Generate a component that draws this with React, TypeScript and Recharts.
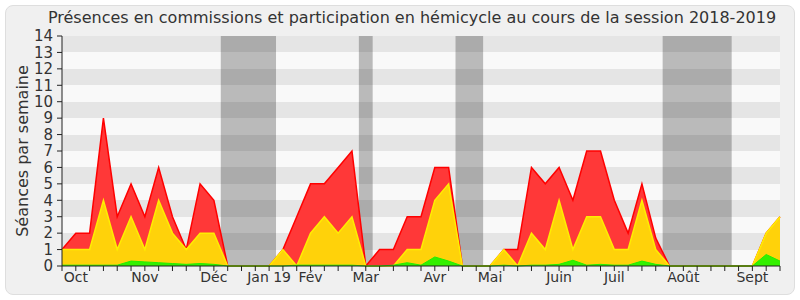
import * as React from 'react';
import { Area, AreaChart, CartesianGrid, Label, ReferenceArea, XAxis, YAxis } from 'recharts';

// weekly values, session 2018-2019 (index 0 = end of sept 2018)
const commissions = [1, 2, 2, 9, 3, 5, 3, 6, 3, 1, 5, 4, 0, 0, 0, 0, 1, 3, 5, 5, 6, 7, 0, 1, 1, 3, 3, 6, 6, 0, 0, 0, 1, 1, 6, 5, 6, 4, 7, 7, 4, 2, 5, 1.7, 0, 0, 0, 0, 0, 0, 0, 2, 3];
const hemicycle = [1, 1, 1, 4, 1, 3, 1, 4, 2, 1, 2, 2, 0, 0, 0, 0, 1, 0, 2, 3, 2, 3, 0, 0, 0, 1, 1, 4, 5, 0, 0, 0, 1, 0, 2, 1, 4, 1, 3, 3, 1, 1, 4, 1, 0, 0, 0, 0, 0, 0, 0, 2, 3];
const interventions = [0.05, 0.05, 0.05, 0.05, 0.05, 0.3, 0.25, 0.2, 0.15, 0.1, 0.15, 0.1, 0, 0, 0, 0, 0, 0.05, 0.05, 0.05, 0.05, 0.05, 0, 0, 0.05, 0.2, 0.05, 0.55, 0.3, 0, 0, 0, 0.05, 0, 0.05, 0.05, 0.1, 0.35, 0.05, 0.1, 0.05, 0.05, 0.3, 0.1, 0, 0, 0, 0, 0, 0, 0, 0.7, 0.3];

const monthWeeks = [1, 6, 11, 15, 18, 22, 27, 31, 36, 40, 45, 50];
const monthLabels = ['Oct', 'Nov', 'Déc', 'Jan 19', 'Fév', 'Mar', 'Avr', 'Mai', 'Juin', 'Juil', 'Août', 'Sept'];

const vacationStart = [11.5, 21.5, 28.5, 43.5];
const vacationEnd = [15.5, 22.5, 30.5, 48.5];

const yTicks = [0, 1, 2, 3, 4, 5, 6, 7, 8, 9, 10, 11, 12, 13, 14];

const data = commissions.map((c, i) => ({
    week: i,
    commissions: c,
    hemicycle: hemicycle[i],
    interventions: interventions[i],
}));
const weekTicks = data.map(d => d.week);

const font = 'DejaVu Sans, Verdana, sans-serif';

export default function App() {
    const monthOf = (w: number) => {
        const k = monthWeeks.indexOf(w);
        return k >= 0 ? monthLabels[k] : '';
    };

    return (
        <div style={{ position: 'absolute', left: 0, top: 0, width: 800, height: 300, background: '#fff', fontFamily: font }}>
            <div style={{ position: 'absolute', left: 5, top: 5, width: 788, height: 288, background: '#f0f0f0', border: '1px solid #dedede', borderRadius: 8 }} />
            <div style={{ position: 'absolute', left: 24, top: 8, width: 776, textAlign: 'center', fontSize: 16, color: '#333' }}>
                Présences en commissions et participation en hémicycle au cours de la session 2018-2019
            </div>
            <div style={{ position: 'absolute', left: 0, top: 0 }}>
                <AreaChart width={800} height={300} data={data} margin={{ top: 36, right: 20, bottom: 4, left: 0 }}>
                    <CartesianGrid vertical={false} stroke="none" horizontalFill={['#e5e5e5', '#f9f9f9']} />
                    {vacationStart.map((s, i) => (
                        <ReferenceArea key={i} x1={s} x2={vacationEnd[i]} y1={0} y2={14} fill="#000" fillOpacity={0.25} stroke="none" />
                    ))}
                    <XAxis
                        dataKey="week"
                        type="number"
                        domain={[0, 52]}
                        ticks={weekTicks}
                        interval={0}
                        tickFormatter={monthOf}
                        height={30}
                        tickSize={5}
                        tickMargin={1}
                        stroke="#222"
                        tick={{ fill: '#333', fontSize: 14, fontFamily: font }}
                    />
                    <XAxis xAxisId="top" orientation="top" dataKey="week" type="number" domain={[0, 52]} ticks={weekTicks} interval={0} height={0} tick={false} axisLine={false} tickSize={2} stroke="#333" />
                    <YAxis
                        width={62}
                        domain={[0, 14]}
                        ticks={yTicks}
                        interval={0}
                        tickSize={5}
                        tickMargin={4}
                        stroke="#222"
                        tick={{ fill: '#333', fontSize: 15, fontFamily: font }}
                    >
                        <Label value="Séances par semaine" angle={-90} position="insideLeft" offset={22} style={{ textAnchor: 'middle', fill: '#333', fontSize: 16, fontFamily: font }} />
                    </YAxis>
                    <Area type="linear" dataKey="commissions" stroke="#ff0000" strokeWidth={1.5} fill="#ff3838" fillOpacity={1} isAnimationActive={false} dot={false} activeDot={false} />
                    <Area type="linear" dataKey="hemicycle" stroke="#ffee00" strokeWidth={1.5} fill="#ffd20a" fillOpacity={1} isAnimationActive={false} dot={false} activeDot={false} />
                    <Area type="linear" dataKey="interventions" stroke="#22ee00" strokeWidth={1} fill="#33f000" fillOpacity={1} isAnimationActive={false} dot={false} activeDot={false} />
                </AreaChart>
            </div>
        </div>
    );
}
